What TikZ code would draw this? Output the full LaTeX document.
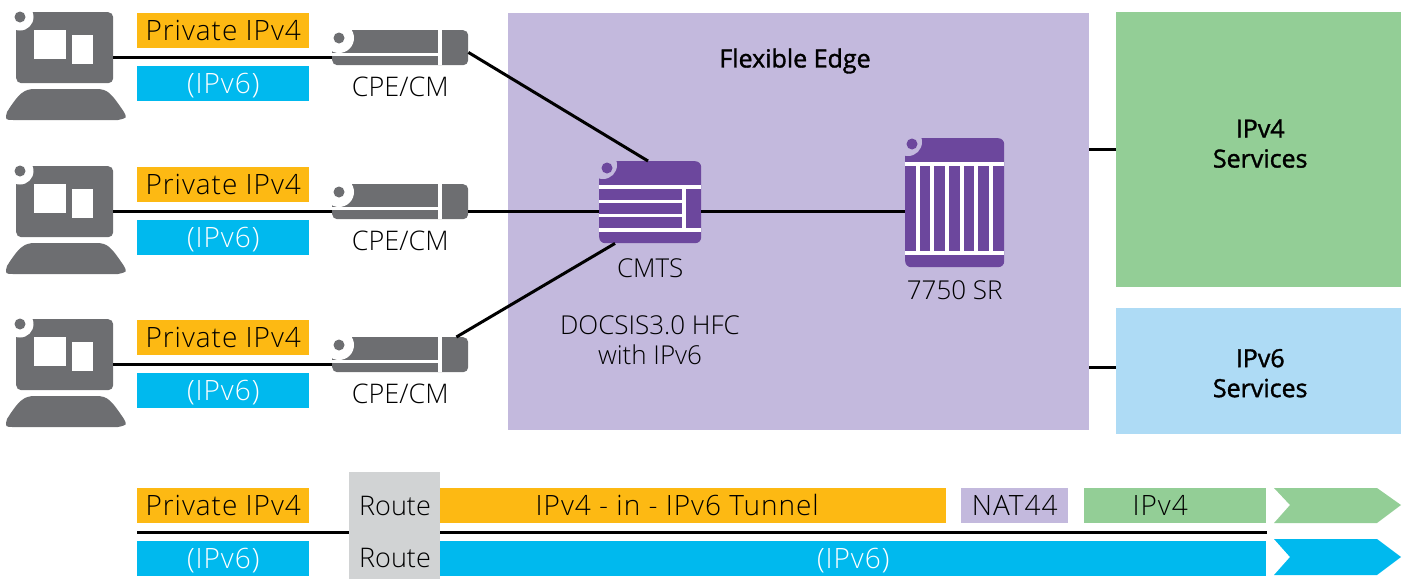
\documentclass[tikz,border=0pt]{standalone}
\usepackage{fontspec}
\setmainfont{Open Sans Light}[BoldFont={Open Sans},BoldFeatures={FakeBold=1.4}]
\usetikzlibrary{positioning}
\definecolor{nokiaorange}{HTML}{FDB913}
\definecolor{nokiablue}{HTML}{00B9EE}
\definecolor{nokiagreen}{HTML}{93CE96}
\definecolor{nokialilac}{HTML}{C3B9DD}
\definecolor{nokiasky}{HTML}{AEDBF5}
\definecolor{nokiagray}{HTML}{6D6E71}
\definecolor{nokiapurple}{HTML}{6C479D}
\definecolor{routegray}{HTML}{D1D3D4}
\tikzset{band/.style =
   {rectangle,
    anchor=north west,
    inner sep=0pt,
    text=black,
    text height=20pt,
    text depth=0pt,
    font=\fontsize{28}{30}\selectfont\addfontfeatures{LetterSpace=3.5}}}
\tikzset{link/.style = {draw, line width=3pt, black}}
\tikzset{tag/.style = {inner sep=0pt, font=\fontsize{26}{30}\selectfont}}
\tikzset{head/.style = {inner sep=0pt, align=center, font=\fontsize{25}{30}\selectfont\bfseries}}
\tikzset{chevron/.style = {fill, draw=none}}
\tikzset{terminal/.pic = {
    \node [fill=nokiagray, rounded corners=5pt, inner sep=0pt, minimum width=97pt,
           minimum height=71pt, anchor=north west] (-body) at (16,12) {};
    \fill [white] (20,17) circle (13.5pt);
    \fill [nokiagray] (20,17) circle (5.5pt);
    \fill [white] (34,30) rectangle (66,59);
    \fill [white] (72,35) rectangle (93,64);
    \fill [nokiagray] (35,89) -- (96,89) .. controls (108,89) and (111,93) .. (124,112)
        .. controls (127,118) .. (118,120) -- (14,120) .. controls (5,120) .. (7,112)
        .. controls (19,93) and (24,89) .. (35,89);
}}
\tikzset{modem/.pic = {
    \node [fill=nokiagray, rounded corners=5pt, inner sep=0pt, minimum width=136pt,
           minimum height=35pt, anchor=north west] (-body) at (0,0) {};
    \fill [white] (7,8) circle (15pt);
    \fill [nokiagray] (7,8) circle (5.5pt);
    \fill [white] (0,23) rectangle (106,26);
    \fill [white] (106,0) rectangle (110,35);
}}
\begin{document}
\begin{tikzpicture}[x=1pt, y=-1pt]

    \useasboundingbox (0,0) rectangle (1407,579);

    % flexible edge and services
    \node [band, fill=nokialilac, minimum width=581pt, minimum height=417pt] (flexedge) at (508,13) {};
    \node [band, fill=nokiagreen, minimum width=285pt, minimum height=275pt] (ipv4box) at (1116,12) {};
    \node [band, fill=nokiasky, minimum width=285pt, minimum height=126pt] (ipv6box) at (1116,308) {};
    \node [head, xshift=1.5pt, yshift=6pt] (ipv4label) at (ipv4box.center) {IPv4\\Services};
    \node [head, xshift=1.5pt, yshift=-2pt] (ipv6label) at (ipv6box.center) {IPv6\\Services};
    \node [head] (edgelabel) at (795,61) {Flexible Edge};

    % cmts
    \node [fill=nokiapurple, rounded corners=6pt, inner sep=0pt, minimum width=102pt,
           minimum height=82pt, anchor=north west] (cmts) at (599,161) {};
    \fill [nokialilac] (603,165) circle (14pt);
    \fill [nokiapurple] (607,168) circle (5.5pt);
    \foreach \y/\w in {187/4,201/3,215/3,230/3.5}
        \fill [white] (599,\y-\w/2) rectangle (682,\y+\w/2);
    \fill [white] (682,185) rectangle (701,189);
    \fill [white] (682,228.2) rectangle (701,231.8);
    \fill [white] (682,187) rectangle (686,230);
    \node [tag, below = 15pt of cmts] (cmtslabel) {CMTS};

    % router
    \node [fill=nokiapurple, rounded corners=6pt, inner sep=0pt, minimum width=99pt,
           minimum height=129pt, anchor=north west] (router) at (905,138) {};
    \fill [nokialilac] (908,142) circle (14pt);
    \fill [nokiapurple] (912,144) circle (5.5pt);
    \foreach \x in {918,932,947,962,976,991}
        \fill [white] (\x-1.7,164) rectangle (\x+1.7,253);
    \foreach \y in {164,253}
        \fill [white] (905,\y-1.7) rectangle (1004,\y+1.7);
    \node [tag, below = 13pt of router] (routerlabel) {7750 SR};
    \node [tag, align=center] (docsis) at (650,340) {DOCSIS3.0 HFC\\with IPv6};

    % three subscriber rows
    \foreach \i/\dy in {1/0,2/154,3/307} {
        \pic (pc\i) at (0,\dy) {terminal};
        \pic (cpe\i) at (332,30+\dy) {modem};
        \node [band, fill=nokiaorange, minimum width=172pt, minimum height=35pt] (ipvfour\i) at (137,13+\dy) {Private IPv4};
        \node [band, fill=nokiablue, minimum width=172pt, minimum height=35pt, text=white] (ipvsix\i) at (137,66+\dy) {(IPv6)};
        \node [tag, font=\fontsize{27}{30}\selectfont, below = 11pt of cpe\i-body] (cpelabel\i) {CPE/CM};
        \draw [link] ([yshift=8pt]pc\i-body.east |- cpe\i-body.south west) -- ([yshift=8pt]cpe\i-body.south west);
    }

    % links into and out of the edge
    \draw [link] ([yshift=13pt]cpe1-body.south east) -- ([xshift=49pt]cmts.north west);
    \draw [link] ([yshift=8pt]cpe2-body.south east) -- ([yshift=8pt]cpe2-body.south east -| cmts.west);
    \draw [link] ([xshift=-12pt]cpe3-body.north east) -- ([xshift=16pt]cmts.south west);
    \draw [link] ([yshift=-8.5pt]router.west -| cmts.east) -- ([yshift=-8.5pt]router.west);
    \draw [link] (ipv4box.west) -- (ipv4box.west -| flexedge.east);
    \draw [link] ([yshift=4pt]ipv6box.west) -- ([yshift=4pt]ipv6box.west -| flexedge.east);

    % legend
    \coordinate (ruleleft) at (137,532);
    \coordinate (ruleright) at (1267,532);
    \draw [link] (ruleleft) -- (ruleright);
    \node [band, fill=routegray, minimum width=91pt, minimum height=107pt] (routebox) at (349,472) {};
    \node [tag, font=\fontsize{27}{30}\selectfont] (routefour) at (395,506) {Route};
    \node [tag, font=\fontsize{27}{30}\selectfont] (routesix) at (395,558) {Route};
    \node [band, fill=nokiaorange, minimum width=172pt, minimum height=35pt] (legendfour) at (137,488) {Private IPv4};
    \node [band, fill=nokiablue, minimum width=172pt, minimum height=35pt, text=white] (legendsix) at (137,541) {(IPv6)};
    \node [band, fill=nokiaorange, minimum width=506pt, minimum height=35pt] (tunnel) at (440,488) {IPv4 - in - IPv6 Tunnel\hspace*{32pt}};
    \node [band, fill=nokialilac, minimum width=107pt, minimum height=35pt] (nat) at (961,488) {NAT44};
    \node [band, fill=nokiagreen, minimum width=182pt, minimum height=35pt] (plainfour) at (1084,488) {IPv4\hspace*{30pt}};
    \node [band, fill=nokiablue, minimum width=826pt, minimum height=35pt, text=white] (tunnelsix) at (440,541) {(IPv6)};
    \fill [chevron, nokiagreen] (1274,488) -- (1377,488) -- (1401,505) -- (1377,523) -- (1274,523) -- (1290,505) -- cycle;
    \fill [chevron, nokiablue] (1274,539) -- (1377,539) -- (1401,557) -- (1377,575) -- (1274,575) -- (1290,557) -- cycle;

\end{tikzpicture}
\end{document}
